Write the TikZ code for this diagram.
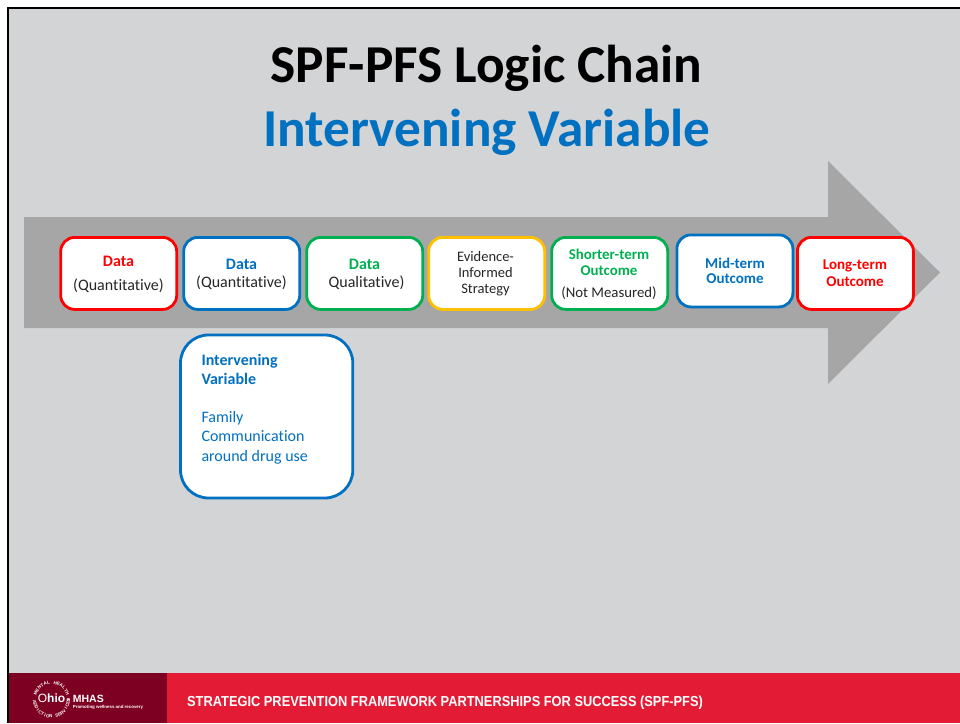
\documentclass[tikz,border=0pt]{standalone}
\usepackage{fontspec}
\setmainfont[Ligatures=NoCommon]{Carlito}
\newfontfamily\footfont{Liberation Sans}
\definecolor{slidebg}{HTML}{D3D4D6}
\definecolor{arrowgray}{HTML}{A6A6A6}
\definecolor{cred}{HTML}{FF0000}
\definecolor{cblue}{HTML}{0070C0}
\definecolor{cgreen}{HTML}{00B050}
\definecolor{cgold}{HTML}{FFC000}
\definecolor{footdark}{HTML}{7D0022}
\definecolor{footred}{HTML}{E31B35}
\newcommand{\fs}[1]{\fontsize{#1}{#1}\selectfont}
\tikzset{
  chainbox/.style={draw=#1,fill=white,line width=2.8pt,rounded corners=14pt,minimum width=116pt,minimum height=72pt,inner sep=0pt,anchor=north west},
  headbig/.style={font=\fs{53.3}\bfseries,anchor=center,inner sep=0pt},
  lab/.style={font=\fs{#1},inner sep=0pt,text=black!85},
  labb/.style={font=\fs{#1}\bfseries,inner sep=0pt},
  logoletter/.style={font=\fs{4.5}\footfont\bfseries,text=white,inner sep=0pt},
}
\begin{document}
\begin{tikzpicture}[x=1pt,y=-1pt]
\useasboundingbox (0,0) rectangle (960,723);
\fill[white] (0,0) rectangle (960,723);
\fill[slidebg] (8,8) rectangle (960,723);
\draw[black,line width=2.4pt] (8.2,723) -- (8.2,8.2) -- (960,8.2);
\node[headbig] (title) at (486.5,68) {SPF-PFS Logic Chain};
\node[headbig,text=cblue] (subtitle) at (487,132) {Intervening Variable};
\fill[arrowgray] (24,217) -- (828,217) -- (828,161) -- (940,272.5) -- (828,384) -- (828,328) -- (24,328) -- cycle;
\node[chainbox=cred] (b1) at (59.3,236) {};
\node[labb=16,text=cred] (t1a) at (118.5,261.5) {Data};
\node[lab=16] (t1b) at (118.5,285.5) {(Quantitative)};
\node[chainbox=cblue] (b2) at (182.3,236) {};
\node[labb=16,text=cblue] (t2a) at (241.5,264.5) {Data};
\node[lab=16] (t2b) at (241.5,282.5) {(Quantitative)};
\node[chainbox=cgreen] (b3) at (305.3,236) {};
\node[labb=16,text=cgreen] (t3a) at (364.5,264.5) {Data};
\node[lab=16] (t3b) at (366.5,282.5) {Qualitative)};
\node[chainbox=cgold] (b4) at (427.3,236) {};
\node[lab=14.5] (t4a) at (485.5,256.5) {Evidence-};
\node[lab=14.5] (t4b) at (485.5,273) {Informed};
\node[lab=14.5] (t4c) at (485.5,290) {Strategy};
\node[chainbox=cgreen] (b5) at (550.3,236) {};
\node[labb=14.9,text=cgreen] (t5a) at (609,254.5) {Shorter-term};
\node[labb=14.9,text=cgreen] (t5b) at (609,271) {Outcome};
\node[lab=14.8] (t5c) at (609,293) {(Not Measured)};
\node[chainbox=cblue] (b6) at (675.5,233.5) {};
\node[labb=15,text=cblue] (t6a) at (735,263) {Mid-term};
\node[labb=15,text=cblue] (t6b) at (735,279) {Outcome};
\node[chainbox=cred] (b7) at (796,236) {};
\node[labb=15,text=cred] (t7a) at (855,266) {Long-term};
\node[labb=15,text=cred] (t7b) at (855,282) {Outcome};
\draw[cblue,fill=white,line width=2.8pt,rounded corners=28pt] (180.5,335) rectangle (352.8,498);
\begin{scope}[every node/.style={anchor=west,inner sep=0pt,text=cblue,font=\fs{16}}]
\node[font=\fs{16}\bfseries] (v1) at (201.3,361) {Intervening};
\node[font=\fs{16}\bfseries] (v2) at (201.3,379) {Variable};
\node (v3) at (201.3,418) {Family};
\node (v4) at (201.3,436.5) {Communication};
\node (v5) at (201.3,457) {around drug use};
\end{scope}
\fill[footdark] (9.4,673) rectangle (167,723);
\fill[footred] (167,673) rectangle (960,723);
% logo: letters set round a ring (y axis points down here)
\foreach \c [count=\i] in {M,E,N,T,A,L,{ },H,E,A,L,T,H,{ },{\&}} {
  \pgfmathsetmacro{\ang}{158-(\i-1)*11.5}
  \node[logoletter,rotate=\ang-90] at ({51.5+17*cos(\ang)},{699.5-17*sin(\ang)}) {\c};
}
\foreach \c [count=\i] in {A,D,D,I,C,T,I,O,N,{ },S,E,R,V,I,C,E,S} {
  \pgfmathsetmacro{\ang}{-172+(\i-1)*10}
  \node[logoletter,rotate=\ang+90] at ({51.5+17*cos(\ang)},{699.5-17*sin(\ang)}) {\c};
}
\node[font=\fs{12}\footfont,text=white,inner sep=0pt] (ohio) at (51.5,698.5) {O\textbf{hio}};
\node[font=\fs{10.5}\footfont\bfseries,text=white,inner sep=0pt,anchor=west] (mhas) at (72.7,699) {MHAS};
\node[font=\fs{4.4}\footfont\bfseries,text=white,inner sep=0pt,anchor=west] (tag) at (72.7,707.7) {Promoting wellness and recovery};
\node[font=\fs{14.5}\footfont\bfseries,text=white,inner sep=0pt,anchor=west,xscale=0.885] (foot) at (187,703) {STRATEGIC PREVENTION FRAMEWORK PARTNERSHIPS FOR SUCCESS (SPF-PFS)};
\end{tikzpicture}
\end{document}
